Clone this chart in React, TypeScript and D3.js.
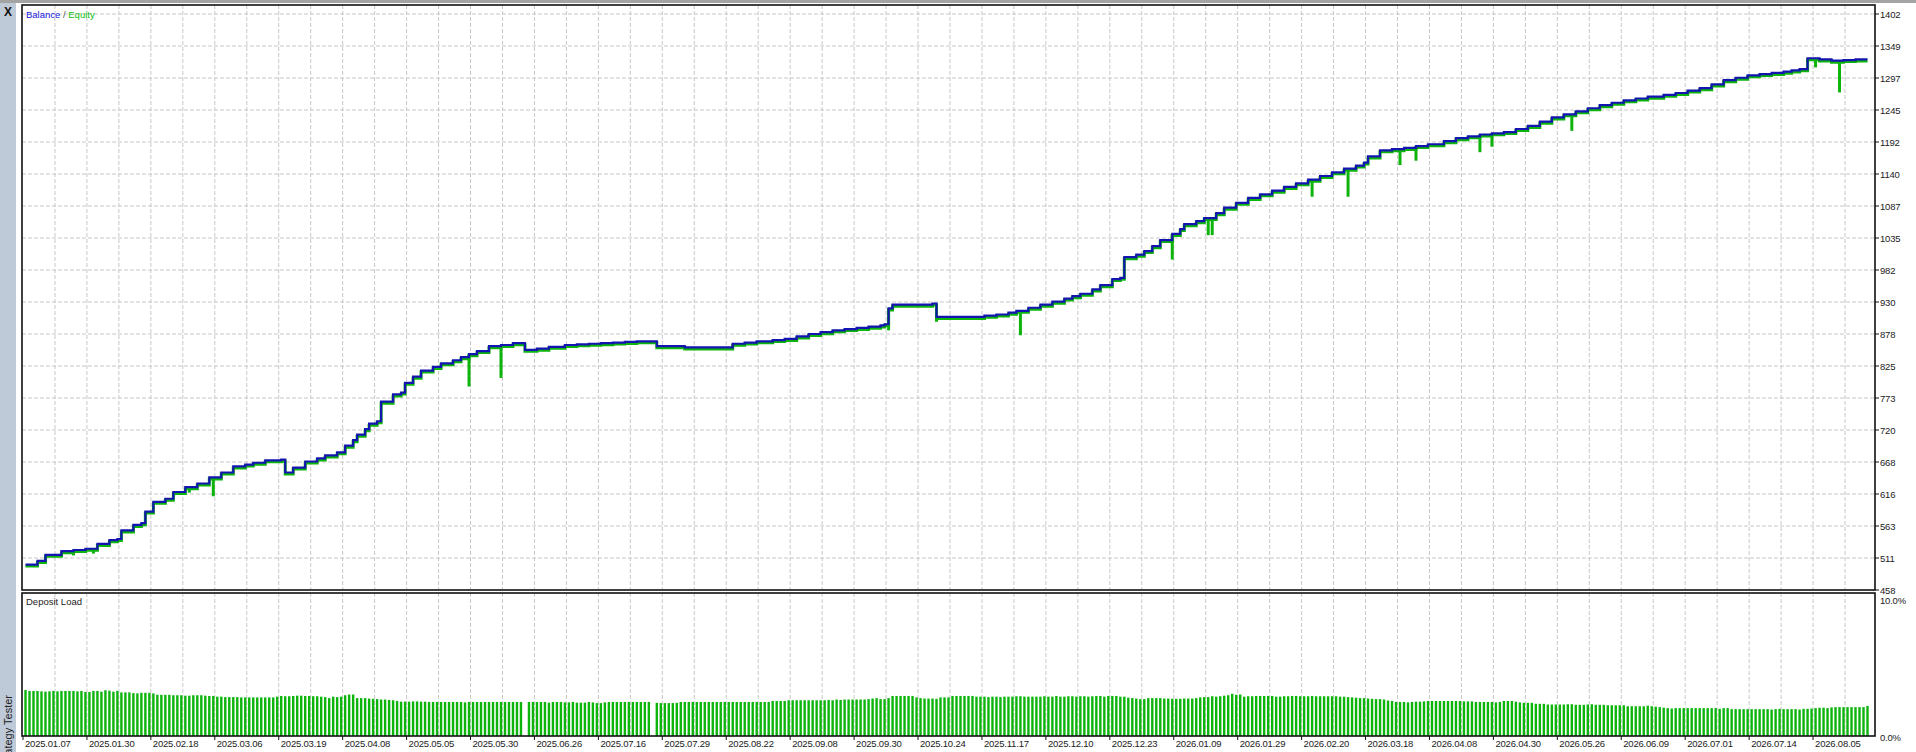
import React from 'react';
import * as d3 from 'd3';

// axis labels
const balanceTicks = [
  '1402', '1349', '1297', '1245', '1192', '1140', '1087', '1035', '982', '930',
  '878', '825', '773', '720', '668', '616', '563', '511', '458',
];
const loadTicks = ['10.0%', '0.0%'];
const dateLabels = [
  '2025.01.07', '2025.01.30', '2025.02.18', '2025.03.06', '2025.03.19', '2025.04.08',
  '2025.05.05', '2025.05.30', '2025.06.26', '2025.07.16', '2025.07.29', '2025.08.22',
  '2025.09.08', '2025.09.30', '2025.10.24', '2025.11.17', '2025.12.10', '2025.12.23',
  '2026.01.09', '2026.01.29', '2026.02.20', '2026.03.18', '2026.04.08', '2026.04.30',
  '2026.05.26', '2026.06.09', '2026.07.01', '2026.07.14', '2026.08.05',
];

// [deal index, balance]
const balance: [number, number][] = [
  [0, 500], [3, 506], [5, 516], [9, 522], [12, 524], [15, 526], [18, 534], [21, 540], [23, 542],
  [24, 556], [27, 565], [29, 568], [30, 587], [32, 603], [35, 608], [37, 619], [40, 627],
  [43, 633], [46, 643], [49, 651], [52, 661], [55, 664], [57, 667], [60, 671], [64, 672],
  [65, 651], [67, 659], [70, 669], [73, 674], [75, 679], [78, 684], [80, 695], [82, 704],
  [83, 713], [85, 722], [86, 731], [88, 735], [89, 767], [92, 779], [94, 782], [95, 798],
  [97, 808], [99, 818], [102, 824], [104, 830], [107, 835], [109, 840], [111, 845], [113, 850],
  [116, 858], [119, 860], [122, 863], [124, 863], [125, 852], [128, 854], [131, 857],
  [135, 860], [138, 861], [141, 862], [144, 863], [147, 864], [150, 865], [153, 866],
  [157, 866], [158, 858], [165, 856], [176, 856], [177, 862], [180, 864], [183, 866],
  [187, 868], [190, 870], [193, 874], [196, 878], [199, 881], [202, 884], [205, 886],
  [208, 888], [211, 890], [214, 892], [215, 894], [216, 920], [217, 926], [227, 928],
  [228, 906], [238, 906], [240, 908], [243, 910], [246, 913], [248, 916], [251, 921],
  [254, 926], [257, 931], [260, 936], [262, 940], [264, 944], [267, 951], [269, 958],
  [272, 968], [274, 970], [275, 1004], [278, 1008], [280, 1014], [282, 1022], [284, 1032],
  [287, 1042], [289, 1050], [290, 1058], [293, 1063], [295, 1068], [298, 1076], [300, 1085],
  [303, 1093], [306, 1101], [309, 1107], [312, 1113], [315, 1119], [318, 1125], [321, 1131],
  [324, 1137], [327, 1143], [330, 1149], [333, 1154], [335, 1159], [336, 1169], [339, 1179],
  [342, 1181], [345, 1183], [348, 1186], [351, 1189], [355, 1194], [358, 1199], [361, 1202],
  [364, 1205], [367, 1207], [370, 1209], [373, 1214], [376, 1219], [379, 1226], [382, 1233],
  [385, 1238], [388, 1243], [391, 1248], [394, 1253], [397, 1257], [400, 1261], [403, 1264],
  [406, 1267], [410, 1270], [413, 1273], [416, 1277], [419, 1281], [422, 1287], [425, 1294],
  [428, 1298], [431, 1302], [434, 1304], [437, 1306], [440, 1308], [442, 1310], [444, 1312],
  [446, 1330], [449, 1328], [452, 1326], [455, 1327], [458, 1328], [461, 1328],
];

// [deal index, equity low]
const equityDips: [number, number][] = [
  [5, 502], [12, 515], [17, 518], [41, 618], [47, 612], [111, 792], [119, 806],
  [216, 884], [228, 898], [249, 876], [264, 936], [287, 1000], [296, 1040], [297, 1040],
  [322, 1103], [331, 1103], [344, 1155], [348, 1162], [364, 1176], [367, 1185],
  [387, 1211], [448, 1315], [454, 1274],
];

// deposit load, % per deal (0 = no bar)
const depositLoad: number[] = [
  3.22, 3.15, 3.15, 3.15, 3.12, 3.10, 3.12, 3.15, 3.12, 3.15, 3.15, 3.15, 3.15, 3.12, 3.15, 3.08,
  3.08, 3.15, 3.15, 3.10, 3.20, 3.17, 3.10, 3.15, 3.05, 3.05, 3.05, 3.00, 2.98, 3.02, 3.02, 3.02,
  2.98, 2.88, 2.88, 2.88, 2.88, 2.85, 2.85, 2.85, 2.82, 2.82, 2.85, 2.85, 2.85, 2.82, 2.80, 2.80,
  2.75, 2.75, 2.72, 2.72, 2.72, 2.72, 2.70, 2.70, 2.70, 2.70, 2.70, 2.70, 2.70, 2.70, 2.70, 2.75,
  2.80, 2.78, 2.78, 2.80, 2.82, 2.82, 2.80, 2.80, 2.78, 2.78, 2.75, 2.72, 2.65, 2.75, 2.72, 2.75,
  2.85, 2.90, 2.90, 2.65, 2.65, 2.65, 2.62, 2.60, 2.58, 2.55, 2.55, 2.52, 2.50, 2.45, 2.40, 2.40,
  2.40, 2.42, 2.42, 2.40, 2.40, 2.38, 2.38, 2.38, 2.38, 2.38, 2.38, 2.38, 2.38, 2.38, 2.35, 2.38,
  2.38, 2.38, 2.38, 2.38, 2.38, 2.38, 2.38, 2.38, 2.38, 2.38, 2.38, 2.38, 2.38, 0, 2.38, 2.38,
  2.38, 2.38, 2.38, 2.33, 2.38, 2.38, 2.38, 2.35, 2.35, 2.38, 2.33, 2.33, 2.33, 2.38, 2.35, 2.30,
  2.30, 2.35, 2.38, 2.38, 2.38, 2.38, 2.38, 2.38, 2.38, 2.38, 2.38, 2.38, 2.38, 0, 2.32, 2.30,
  2.30, 2.30, 2.30, 2.32, 2.38, 2.38, 2.38, 2.38, 2.38, 2.38, 2.38, 2.38, 2.38, 2.38, 2.38, 2.38,
  2.38, 2.38, 2.38, 2.38, 2.38, 2.38, 2.38, 2.38, 2.38, 2.38, 2.38, 2.45, 2.45, 2.45, 2.45, 2.50,
  2.50, 2.50, 2.50, 2.50, 2.50, 2.50, 2.50, 2.50, 2.50, 2.52, 2.50, 2.55, 2.52, 2.55, 2.55, 2.55,
  2.55, 2.55, 2.55, 2.58, 2.62, 2.65, 2.58, 2.58, 2.65, 2.80, 2.80, 2.80, 2.80, 2.80, 2.80, 2.70,
  2.65, 2.62, 2.62, 2.62, 2.60, 2.70, 2.70, 2.70, 2.80, 2.80, 2.80, 2.80, 2.80, 2.80, 2.75, 2.75,
  2.75, 2.72, 2.75, 2.75, 2.72, 2.75, 2.75, 2.75, 2.78, 2.78, 2.75, 2.75, 2.75, 2.75, 2.75, 2.78,
  2.75, 2.75, 2.80, 2.75, 2.75, 2.78, 2.78, 2.75, 2.78, 2.78, 2.75, 2.78, 2.80, 2.80, 2.75, 2.80,
  2.80, 2.80, 2.75, 2.75, 2.68, 2.65, 2.62, 2.58, 2.58, 2.65, 2.65, 2.65, 2.65, 2.62, 2.62, 2.60,
  2.60, 2.60, 2.62, 2.62, 2.62, 2.65, 2.70, 2.72, 2.72, 2.78, 2.75, 2.78, 2.82, 2.85, 2.95, 2.88,
  2.90, 2.75, 2.78, 2.78, 2.80, 2.80, 2.80, 2.80, 2.80, 2.75, 2.75, 2.78, 2.78, 2.80, 2.80, 2.78,
  2.78, 2.78, 2.80, 2.78, 2.78, 2.78, 2.78, 2.78, 2.78, 2.75, 2.75, 2.72, 2.70, 2.68, 2.65, 2.65,
  2.62, 2.60, 2.58, 2.58, 2.55, 2.48, 2.45, 2.38, 2.38, 2.38, 2.35, 2.38, 2.40, 2.40, 2.42, 2.45,
  2.45, 2.45, 2.45, 2.45, 2.45, 2.45, 2.45, 2.45, 2.42, 2.42, 2.42, 2.38, 2.38, 2.38, 2.38, 2.38,
  2.35, 2.38, 2.45, 2.45, 2.45, 2.40, 2.35, 2.32, 2.32, 2.32, 2.25, 2.25, 2.25, 2.20, 2.20, 2.20,
  2.20, 2.20, 2.22, 2.22, 2.18, 2.18, 2.18, 2.20, 2.22, 2.18, 2.18, 2.18, 2.15, 2.15, 2.15, 2.15,
  2.15, 2.08, 2.08, 2.08, 2.08, 2.08, 2.12, 2.08, 2.05, 2.02, 1.98, 1.95, 1.92, 1.95, 1.95, 1.95,
  1.95, 1.95, 1.95, 1.95, 1.95, 1.95, 1.95, 1.95, 1.90, 1.95, 1.95, 1.88, 1.88, 1.88, 1.88, 1.88,
  1.88, 1.88, 1.88, 1.88, 1.88, 1.85, 1.88, 1.90, 1.88, 1.88, 1.88, 1.88, 1.85, 1.90, 1.90, 1.92,
  1.95, 1.98, 1.98, 1.95, 2.00, 2.02, 2.02, 2.02, 2.02, 2.02, 2.02, 2.02, 2.02, 2.10,
];

const W = 1916;
const H = 752;
const left = 22;
const right = 1875;
const mainTop = 5;
const mainBottom = 590;
const subTop = 593;
const subBottom = 736;

const font = '"Liberation Sans", Arial, sans-serif';
const gridColor = '#c8c8c8';

const App: React.FC = () => {
  const n = depositLoad.length;
  const x = d3.scaleLinear().domain([0, n - 1]).range([25.5, 1867.5]);

  const lo = 458.4;
  const hi = 1402.5;
  const y = d3.scaleLinear().domain([lo, hi]).range([mainBottom, 14]);
  const step = (hi - lo) / (balanceTicks.length - 1);

  const yLoad = d3.scaleLinear().domain([0, 10]).range([subBottom, subTop]);

  const line = d3
    .line<[number, number]>()
    .x(d => x(d[0]))
    .y(d => y(d[1]))
    .curve(d3.curveStepAfter);

  const balanceAt = (i: number) => {
    let v = balance[0][1];
    for (const [j, b] of balance) if (j <= i) v = b;
    return v;
  };

  const vGrid = d3.range(8, n, 8).map(i => x(i) - 2.5).filter(v => v < right - 2);

  return (
    <svg
      width={W}
      height={H}
      style={{ position: 'absolute', left: 0, top: 0, background: '#fff' }}
      fontFamily={font}
    >
      <rect x={0} y={0} width={W} height={H} fill="#fff" />
      {/* side tab */}
      <rect x={0} y={0} width={16} height={H} fill="#bfcad8" />
      <rect x={0} y={0} width={W} height={3} fill="#a3a3a3" />
      <text x={8} y={16} textAnchor="middle" fontSize={12} fontWeight="bold" fill="#111">
        X
      </text>
      <text
        transform="translate(12,695) rotate(-90)"
        fontSize={11}
        fill="#222"
        textAnchor="end"
      >
        Strategy Tester
      </text>

      {/* grid */}
      <g stroke={gridColor} strokeDasharray="4,2" strokeWidth={1}>
        {vGrid.map((gx, k) => (
          <g key={k}>
            <line x1={gx} x2={gx} y1={mainTop} y2={mainBottom} />
            <line x1={gx} x2={gx} y1={subTop} y2={subBottom} />
          </g>
        ))}
        {balanceTicks.slice(0, -1).map((_, k) => {
          const gy = Math.round(y(hi - k * step));
          return <line key={k} x1={left} x2={right} y1={gy} y2={gy} />;
        })}
      </g>

      {/* deposit load bars */}
      <g fill="#0cb40c">
        {depositLoad.map((v, i) =>
          v > 0 ? (
            <rect key={i} x={x(i) - 1.2} y={yLoad(v)} width={2.4} height={subBottom - yLoad(v)} />
          ) : null
        )}
      </g>

      {/* equity */}
      <path
        d={line(balance) || ''}
        fill="none"
        stroke="#0cb40c"
        strokeWidth={3}
        transform="translate(0,1.5)"
      />
      <g stroke="#0cb40c" strokeWidth={3}>
        {equityDips.map(([i, v], k) => (
          <line key={k} x1={x(i)} x2={x(i)} y1={y(balanceAt(i))} y2={y(v)} />
        ))}
      </g>
      {/* balance */}
      <path d={line(balance) || ''} fill="none" stroke="#1414b0" strokeWidth={2.2} />

      {/* frames */}
      <rect x={left} y={mainTop} width={right - left} height={mainBottom - mainTop} fill="none" stroke="#111" strokeWidth={1.6} />
      <rect x={left} y={subTop} width={right - left} height={subBottom - subTop} fill="none" stroke="#111" strokeWidth={1.6} />

      {/* legends */}
      <text x={26} y={13.5} fontSize={9.5} dominantBaseline="central">
        <tspan fill="#2020e0">Balance</tspan>
        <tspan fill="#555"> / </tspan>
        <tspan fill="#10c010">Equity</tspan>
      </text>
      <text x={26} y={601} fontSize={9.5} dominantBaseline="central" fill="#222">
        Deposit Load
      </text>

      {/* right axis */}
      <g fontSize={9.5} fill="#222" letterSpacing={-0.2}>
        {balanceTicks.map((t, k) => {
          const ty = y(hi - k * step);
          return (
            <g key={t}>
              <line x1={right} x2={right + 4} y1={ty} y2={ty} stroke="#111" />
              <text x={1880} y={ty} dominantBaseline="central">
                {t}
              </text>
            </g>
          );
        })}
        <text x={1880} y={600} dominantBaseline="central">
          {loadTicks[0]}
        </text>
        <text x={1880} y={737} dominantBaseline="central">
          {loadTicks[1]}
        </text>
      </g>

      {/* bottom axis */}
      <g fontSize={9.5} fill="#222" letterSpacing={-0.2}>
        {dateLabels.map((d, k) => {
          const tx = x(k * 16) - 2.5;
          return (
            <g key={d}>
              <line x1={tx} x2={tx} y1={subBottom} y2={subBottom + 4} stroke="#111" />
              <text x={tx + 2} y={743} dominantBaseline="central">
                {d}
              </text>
            </g>
          );
        })}
      </g>
    </svg>
  );
};

export default App;
